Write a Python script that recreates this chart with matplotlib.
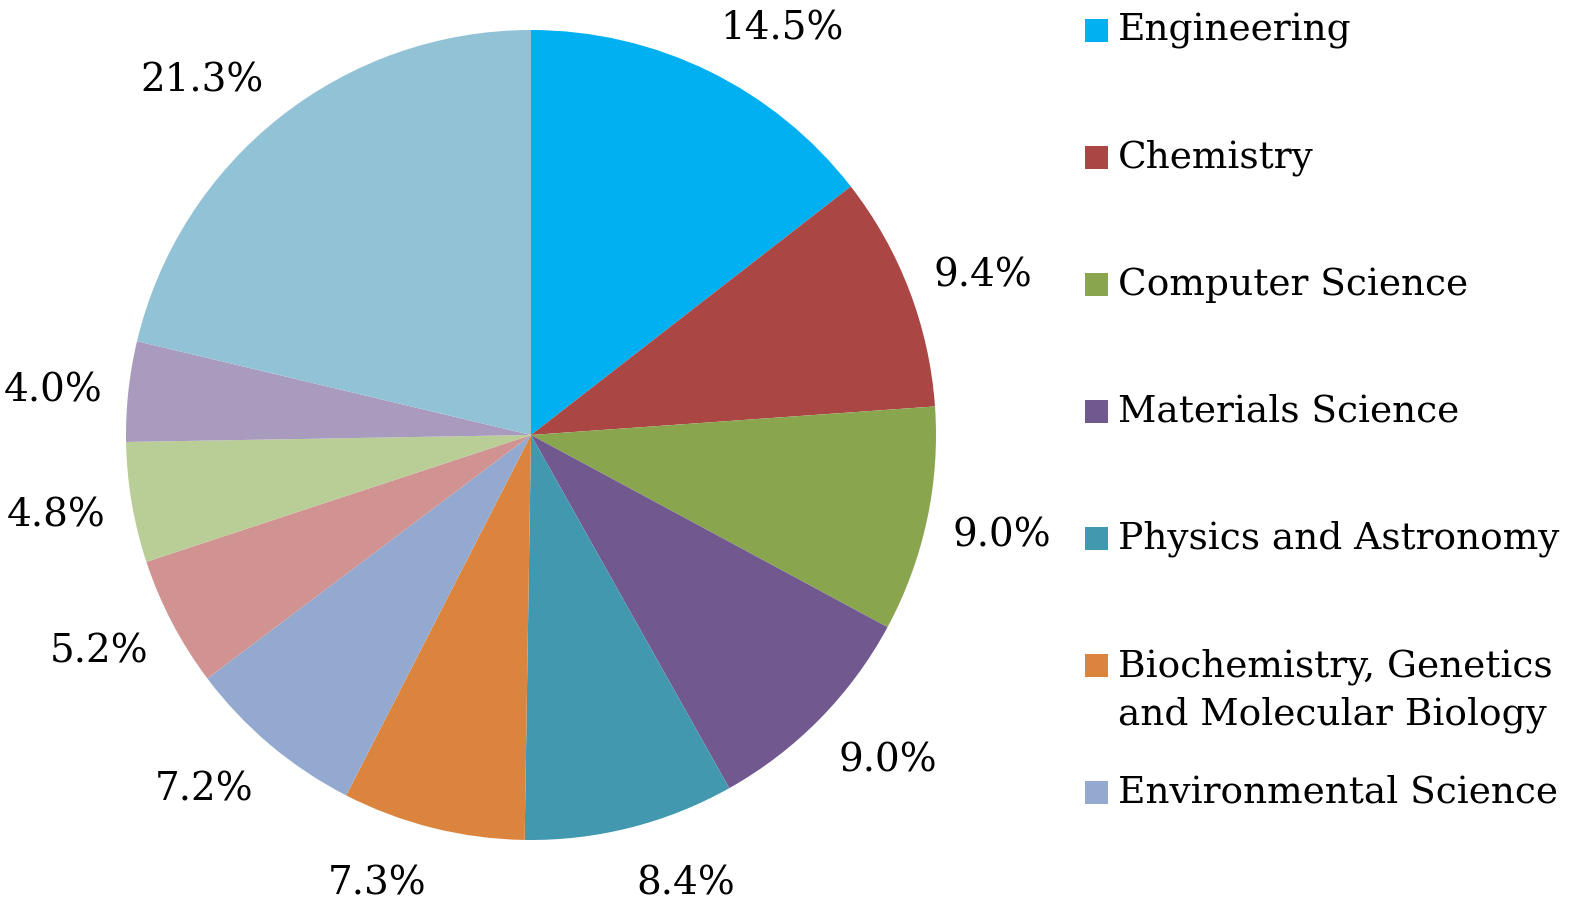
import matplotlib
matplotlib.use("Agg")
import numpy as np
import matplotlib.pyplot as plt
from matplotlib.patches import Rectangle

shares = [14.5, 9.4, 9.0, 9.0, 8.4, 7.3, 7.2, 5.2, 4.8, 4.0, 21.3]
colors = ["#00B0F0", "#AA4643", "#89A54E", "#71588F", "#4198AF", "#DB843D",
          "#93A9CF", "#D19392", "#B9CD96", "#A99BBD", "#92C2D6"]
legend_labels = ["Engineering", "Chemistry", "Computer Science", "Materials Science",
                 "Physics and Astronomy", "Biochemistry, Genetics\nand Molecular Biology",
                 "Environmental Science"]

plt.rcParams["font.family"] = ["DejaVu Serif"]
W, H = 1571, 904
fig = plt.figure(figsize=(W / 100, H / 100), dpi=100)

# pie centre (531, 436) px, radius 405 px
cx, cy, r = 531, 436, 405
ext = 1.3
ax = fig.add_axes([(cx - r * ext) / W, (H - cy - r * ext) / H, 2 * r * ext / W, 2 * r * ext / H])
wedges, texts = ax.pie(shares, colors=colors, startangle=90, counterclock=False,
                       radius=1, wedgeprops=dict(linewidth=0))
ax.set_xlim(-ext, ext)
ax.set_ylim(-ext, ext)
ax.set_aspect("equal")
ax.axis("off")

# data labels just outside the slices, Excel "outside end" style
for w, v in zip(wedges, shares):
    ang = np.deg2rad((w.theta1 + w.theta2) / 2)
    c, s = np.cos(ang), np.sin(ang)
    ax.text(1.065 * c, 1.13 * s, f"{v:.1f}%", fontsize=28,
            ha="left" if c > 0 else "right", va="center_baseline")

# legend drawn by hand to keep the wide spacing
ys = [31, 158, 285, 412, 539, 666, 793]
for lab, col, y in zip(legend_labels, colors, ys):
    fig.patches.append(Rectangle((1085 / W, (H - y - 11.5) / H), 23 / W, 23 / H,
                                 transform=fig.transFigure, facecolor=col, edgecolor="none"))
    if "\n" in lab:
        fig.text(1118 / W, (H - y + 17) / H, lab, fontsize=27, va="top", ha="left", linespacing=1.4)
    else:
        fig.text(1118 / W, (H - y) / H, lab, fontsize=27, va="center", ha="left")

fig.savefig("out.png", dpi=100)
